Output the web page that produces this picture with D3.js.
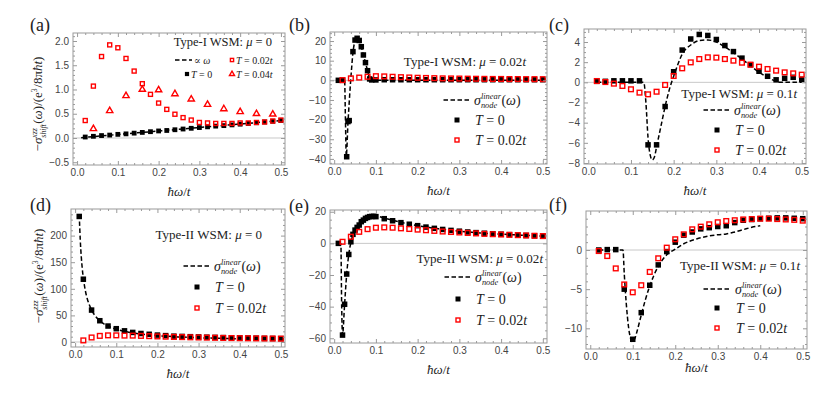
<!DOCTYPE html>
<html><head><meta charset="utf-8">
<script src="https://cdn.jsdelivr.net/npm/d3@7"></script>
<style>body{margin:0;background:#fff} svg{display:block} text{white-space:pre}</style>
</head><body><svg id="c" width="831" height="405"></svg>
<script>
// ---------------- DATA ----------------
const xTicks = [0, 0.1, 0.2, 0.3, 0.4, 0.5];
const xTickLabels = ["0.0","0.1","0.2","0.3","0.4","0.5"];
const omega = [0.02,0.04,0.06,0.08,0.10,0.12,0.14,0.16,0.18,0.20,0.22,0.24,0.26,0.28,0.30,0.32,0.34,0.36,0.38,0.40,0.42,0.44,0.46,0.48,0.50];

// (a) Type-I, mu=0
const aLineX = [0.01, 0.5];
const aLineY = [0.007, 0.36];
const aT0Y = [0.02,0.035,0.05,0.06,0.075,0.085,0.1,0.115,0.13,0.145,0.155,0.17,0.185,0.2,0.215,0.23,0.245,0.255,0.27,0.285,0.3,0.315,0.33,0.345,0.36];
const aT002Y = [0.36,1.07,1.68,1.92,1.86,1.64,1.38,1.12,0.9,0.72,0.59,0.49,0.42,0.37,0.32,0.31,0.3,0.3,0.3,0.31,0.31,0.32,0.33,0.35,0.37];
const aT004X = [0.04,0.08,0.12,0.16,0.20,0.24,0.28,0.32,0.36,0.40,0.44,0.48];
const aT004Y = [0.19,0.56,0.87,1.0,0.99,0.91,0.8,0.69,0.6,0.54,0.5,0.49];

// (b) Type-I, mu=0.02t
const bLineX = [0.01,0.025,0.027,0.029,0.033,0.037,0.041,0.045,0.05,0.055,0.06,0.065,0.07,0.075,0.08,0.085,0.09,0.1,0.2,0.3,0.4,0.5];
const bLineY = [0,0,-20,-38.5,-22,-8,4,14,20,21.6,20.3,17,13,9,5,1,0,0,0,0,0,0];
const bT0X = [0.01,0.02,0.03,0.033,0.036,0.045,0.05,0.055,0.06,0.065,0.07,0.075,0.08,0.085,0.09,0.1,0.12,0.14,0.16,0.18,0.20,0.22,0.24,0.26,0.28,0.30,0.32,0.34,0.36,0.38,0.40,0.42,0.44,0.46,0.48,0.50];
const bT0Y = [0,0,-38.9,-21,-20.5,14.6,20.5,21.4,20.3,17.1,12.9,9.0,4.9,0.7,0.2,0.2,0.3,0.3,0.3,0.3,0.3,0.3,0.3,0.3,0.3,0.3,0.3,0.3,0.3,0.3,0.3,0.3,0.3,0.3,0.3,0.3];
const bT002Y = [0.1,1.0,1.4,1.8,2.1,2.0,1.8,1.6,1.45,1.3,1.2,1.1,1.0,0.95,0.9,0.85,0.8,0.75,0.7,0.7,0.65,0.65,0.6,0.6,0.6];

// (c) Type-I, mu=0.1t
const cLineX = [0.02,0.13,0.135,0.14,0.145,0.15,0.155,0.16,0.17,0.18,0.19,0.2,0.21,0.22,0.24,0.26,0.28,0.3,0.32,0.34,0.36,0.38,0.4,0.42,0.44,0.45,0.5];
const cLineY = [0,0,-2,-5.5,-7.2,-7.7,-7.4,-6.4,-4.4,-2.4,-0.7,0.6,1.8,2.8,3.7,4.15,4.2,4.0,3.5,2.95,2.3,1.65,1.0,0.5,0.1,0,0];
const cT0Y = [0.1,0.1,0.15,0.15,0.15,0.15,-6.2,-6.2,-2.4,1.05,3.2,4.3,4.75,4.65,4.25,3.65,3.05,2.4,1.75,1.1,0.6,0.25,0.4,0.5,0.3];
const cT002Y = [0.13,0.03,-0.13,-0.36,-0.69,-1.02,-1.19,-0.93,-0.26,0.63,1.39,1.98,2.31,2.48,2.45,2.31,2.15,1.95,1.75,1.55,1.32,1.16,0.99,0.89,0.76];

// (d) Type-II, mu=0
const dLineX = [0.01,0.0125,0.015,0.0175,0.02,0.025,0.03,0.035,0.04,0.05,0.06,0.07,0.08,0.1,0.12,0.15,0.2,0.25,0.3,0.35,0.4];
const dLineY = [240,192,160,137,120,96,80,69,60,48,40,34,30,24,20,16,12,9.6,8,6.9,6];
const dT0X = [0.01,0.02,0.04,0.06,0.08,0.10,0.12,0.14,0.16,0.18,0.20,0.22,0.24,0.26,0.28,0.30,0.32,0.34,0.36,0.38,0.40,0.42,0.44,0.46,0.48,0.50];
const dT0Y = [236,118,60,40,30,25,21,18,16,14.5,13,12,11,10.5,10,9.5,9,8.7,8.3,8,7.7,7.4,7.1,6.8,6.6,6.4];
const dT002Y = [3,8.5,11.5,12.5,12.5,12,12,11.5,11,10.5,10,9.5,9.2,8.8,8.5,8.2,7.9,7.6,7.4,7.2,7,6.8,6.6,6.5,6.3];

// (e) Type-II, mu=0.02t
const eLineX = [0.01,0.016,0.018,0.02,0.025,0.03,0.035,0.04,0.045,0.05,0.055,0.06,0.07,0.08,0.09,0.1,0.12,0.14,0.16,0.18,0.2,0.25,0.3,0.35,0.4,0.45,0.5];
const eLineY = [0,0,-40,-58,-38.5,-19.4,-7,0.5,5.5,8.5,10.2,11.8,14.6,16.4,17.1,17.2,16,14.6,13.3,12.2,11.2,9.2,7.7,6.6,5.8,5.2,4.6];
const eT0X = [0.01,0.02,0.025,0.03,0.035,0.04,0.045,0.05,0.055,0.06,0.065,0.07,0.075,0.08,0.085,0.09,0.095,0.1,0.12,0.14,0.16,0.18,0.20,0.22,0.24,0.26,0.28,0.30,0.32,0.34,0.36,0.38,0.40,0.42,0.44,0.46,0.48,0.50];
const eT0Y = [0,-58,-38.5,-19.4,-7,1,5.7,8.4,10.1,11.6,13.7,14.7,15.8,16.4,16.9,17.0,17.1,16.9,15.6,14.3,13.1,12.1,11.2,10.3,9.5,8.8,8.2,7.7,7.2,6.8,6.4,6.1,5.8,5.5,5.2,5.0,4.8,4.6];
const eT002Y = [1,4.2,7.3,9.0,9.9,10.1,9.9,9.5,9.1,8.7,8.3,7.9,7.5,7.2,6.9,6.6,6.3,6.0,5.8,5.6,5.4,5.2,5.0,4.8,4.6];

// (f) Type-II, mu=0.1t
const fLineX = [0.02,0.077,0.08,0.085,0.09,0.095,0.1,0.105,0.11,0.12,0.13,0.14,0.15,0.16,0.18,0.2,0.22,0.25,0.28,0.3,0.32,0.34,0.36,0.38,0.4];
const fLineY = [0,0,-3,-7,-9.8,-11.3,-11.7,-11.3,-10.4,-8.3,-6.3,-4.6,-3.2,-2.1,-0.6,0.1,0.8,1.4,1.8,1.95,2.05,2.3,2.6,2.9,3.1];
const fT0Y = [0,0.05,0.05,-5.0,-11.4,-8.0,-4.5,-1.9,-0.2,1.0,1.9,2.3,2.7,2.85,3.0,3.1,3.5,3.8,3.9,4.0,4.05,4.1,4.1,4.05,4.0];
const fT002Y = [-0.13,-0.77,-2.35,-4.4,-5.4,-4.5,-2.8,-1.06,0.3,1.37,2.0,2.64,2.98,3.28,3.54,3.7,3.8,3.9,3.95,4.0,4.0,3.95,3.9,3.85,3.75];

// y tick values / labels
const aYTicks = [-0.5,0,0.5,1,1.5,2],   aYLabels = ["−0.5","0.0","0.5","1.0","1.5","2.0"];
const bYTicks = [-40,-30,-20,-10,0,10,20], bYLabels = ["−40","−30","−20","−10","0","10","20"];
const cYTicks = [-8,-6,-4,-2,0,2,4],    cYLabels = ["−8","−6","−4","−2","0","2","4"];
const dYTicks = [0,50,100,150,200],     dYLabels = ["0","50","100","150","200"];
const eYTicks = [-60,-40,-20,0,20],     eYLabels = ["−60","−40","−20","0","20"];
const fYTicks = [-10,-5,0],             fYLabels = ["−10","−5","0"];

// ---------------- DRAWING ----------------
const svg = d3.select('#c');
const SERIF = "'Liberation Serif','DejaVu Serif',serif";
const SANS = "'Liberation Sans','DejaVu Sans',sans-serif";
const RED = '#f00';

function rich(parent, segs, size, anchor) {
  const g = parent.append('g');
  let x = 0;
  const mk = (txt, it, sz, yy) => g.append('text').attr('xml:space','preserve')
      .attr('x', x).attr('y', yy).text(txt)
      .style('font-family', SERIF).style('font-size', sz + 'px')
      .style('font-style', it ? 'italic' : 'normal').attr('fill', '#222');
  segs.forEach(s => {
    if (s.sup !== undefined || s.sub !== undefined) {
      let w = 0; const ss = size * 0.6;
      if (s.sup) { const t = mk(s.sup, s.it !== false, ss, -size * 0.40); w = Math.max(w, t.node().getComputedTextLength()); }
      if (s.sub) { const t = mk(s.sub, s.it !== false, ss, size * 0.28); w = Math.max(w, t.node().getComputedTextLength()); }
      x += w + 0.5;
    } else {
      const t = mk(s.t, s.it, size, 0);
      x += t.node().getComputedTextLength();
    }
  });
  const shift = anchor === 'end' ? -x : anchor === 'middle' ? -x / 2 : 0;
  g.selectAll('text').attr('x', function () { return +this.getAttribute('x') + shift; });
  return g;
}

const hdr = (typ, mu) => [{t: 'Type-' + typ + ' WSM: '}, {t: 'μ', it: true}, {t: ' = ' + mu[0]}].concat(mu[1] ? [{t: 't', it: true}] : []);
const Tlab = (v, hasT) => [{t: 'T', it: true}, {t: ' = ' + v}].concat(hasT ? [{t: 't', it: true}] : []);
const sigLab = [{t: 'σ', it: true}, {sup: 'linear', sub: 'node'}, {t: '('}, {t: 'ω', it: true}, {t: ')'}];

function marker(g, kind, cx, cy, s) {
  if (kind === 'black') g.append('rect').attr('x', cx - s / 2).attr('y', cy - s / 2).attr('width', s).attr('height', s).attr('fill', '#000');
  else if (kind === 'red') g.append('rect').attr('x', cx - s / 2 + 0.7).attr('y', cy - s / 2 + 0.7).attr('width', s - 1.4).attr('height', s - 1.4).attr('fill', 'none').attr('stroke', RED).attr('stroke-width', 1.4);
  else if (kind === 'tri') g.append('path').attr('transform', `translate(${cx},${cy})`).attr('d', d3.symbol(d3.symbolTriangle, s * s * 0.45)()).attr('fill', 'none').attr('stroke', RED).attr('stroke-width', 1.4);
}

const panels = [
  {id: 'a', frame: [73, 33, 285, 165], ydom: [-0.557, 2.165], yt: aYTicks, yl: aYLabels, ym: 0.1, ms: 4.8,
   line: [aLineX, aLineY], black: [omega, aT0Y], red: [omega, aT002Y], tri: [aT004X, aT004Y]},
  {id: 'b', frame: [330, 32, 547, 164], ydom: [-42.6, 24.6], yt: bYTicks, yl: bYLabels, ym: 2, ms: 5.5,
   line: [bLineX, bLineY], black: [bT0X, bT0Y], red: [omega, bT002Y]},
  {id: 'c', frame: [584, 29, 806, 164], ydom: [-8.1, 5.29], yt: cYTicks, yl: cYLabels, ym: 0.5, ms: 5.5,
   line: [cLineX, cLineY], black: [omega, cT0Y], red: [omega, cT002Y]},
  {id: 'd', frame: [71, 209, 285, 347], ydom: [-9.4, 250], yt: dYTicks, yl: dYLabels, ym: 10, ms: 5.5,
   line: [dLineX, dLineY], black: [dT0X, dT0Y], red: [omega, dT002Y]},
  {id: 'e', frame: [330, 210, 547, 343], ydom: [-63, 21.1], yt: eYTicks, yl: eYLabels, ym: 5, ms: 5.5,
   line: [eLineX, eLineY], black: [eT0X, eT0Y], red: [omega, eT002Y]},
  {id: 'f', frame: [586, 211, 807, 349], ydom: [-12.64, 4.98], yt: fYTicks, yl: fYLabels, ym: 1, ms: 5.5,
   line: [fLineX, fLineY], black: [omega, fT0Y], red: [omega, fT002Y]},
];

const xMinor = d3.range(0, 0.5001, 0.02).filter(v => Math.abs(v * 10 - Math.round(v * 10)) > 1e-6);

function styleAxis(sel) {
  sel.select('.domain').remove();
  sel.selectAll('.tick line').attr('stroke', '#9a9a9a');
  sel.selectAll('.tick text').attr('fill', '#444').style('font-family', SANS).style('font-size', '10px');
}

panels.forEach(p => {
  const [L, T, R, B] = p.frame;
  const x = d3.scaleLinear().domain([-0.01, 0.51]).range([L, R]);
  const y = d3.scaleLinear().domain(p.ydom).range([B, T]);
  const g = svg.append('g');
  g.append('clipPath').attr('id', 'clip' + p.id).append('rect').attr('x', L).attr('y', T).attr('width', R - L).attr('height', B - T);
  const plot = g.append('g').attr('clip-path', `url(#clip${p.id})`);
  plot.append('line').attr('x1', L).attr('x2', R).attr('y1', y(0)).attr('y2', y(0)).attr('stroke', '#c8c8c8').attr('stroke-width', 1);

  const yMinor = d3.range(Math.ceil(p.ydom[0] / p.ym) * p.ym, p.ydom[1], p.ym)
    .filter(v => !p.yt.some(t => Math.abs(t - v) < p.ym * 1e-3));

  const ax = [
    g.append('g').attr('transform', `translate(0,${B})`).call(d3.axisBottom(x).tickValues(xTicks).tickFormat((d, i) => xTickLabels[i]).tickSize(-4).tickPadding(4)),
    g.append('g').attr('transform', `translate(0,${B})`).call(d3.axisBottom(x).tickValues(xMinor).tickFormat('').tickSize(-2)),
    g.append('g').attr('transform', `translate(0,${T})`).call(d3.axisTop(x).tickValues(xTicks).tickFormat('').tickSize(-4)),
    g.append('g').attr('transform', `translate(0,${T})`).call(d3.axisTop(x).tickValues(xMinor).tickFormat('').tickSize(-2)),
    g.append('g').attr('transform', `translate(${L},0)`).call(d3.axisLeft(y).tickValues(p.yt).tickFormat((d, i) => p.yl[i]).tickSize(-4).tickPadding(4)),
    g.append('g').attr('transform', `translate(${L},0)`).call(d3.axisLeft(y).tickValues(yMinor).tickFormat('').tickSize(-2)),
    g.append('g').attr('transform', `translate(${R},0)`).call(d3.axisRight(y).tickValues(p.yt).tickFormat('').tickSize(-4)),
    g.append('g').attr('transform', `translate(${R},0)`).call(d3.axisRight(y).tickValues(yMinor).tickFormat('').tickSize(-2)),
  ];
  ax.forEach(styleAxis);
  g.append('rect').attr('x', L).attr('y', T).attr('width', R - L).attr('height', B - T).attr('fill', 'none').attr('stroke', '#9a9a9a').attr('stroke-width', 1);

  const lx = p.line[0], ly = p.line[1];
  plot.append('path').attr('d', d3.line().x(i => x(lx[i])).y(i => y(ly[i])).curve(d3.curveMonotoneX)(d3.range(lx.length)))
    .attr('fill', 'none').attr('stroke', '#000').attr('stroke-width', 1.5).attr('stroke-dasharray', '4.5,2.5');
  const bx = p.black[0], by = p.black[1];
  bx.forEach((v, i) => marker(plot, 'black', x(v), y(by[i]), p.ms));
  const rx = p.red[0], ry = p.red[1];
  rx.forEach((v, i) => marker(plot, 'red', x(v), y(ry[i]), p.ms + 0.6));
  if (p.tri) p.tri[0].forEach((v, i) => marker(plot, 'tri', x(v), y(p.tri[1][i]), 6.2));

  rich(g, [{t: 'ħω', it: true}, {t: '/'}, {t: 't', it: true}], 13, 'middle')
    .attr('transform', `translate(${(L + R) / 2},${B + (p.id === 'f' ? 23 : 31)})`);
});

[['(a)', 30, 31], ['(b)', 289, 31], ['(c)', 549, 31], ['(d)', 30, 211], ['(e)', 289, 212], ['(f)', 549, 211]].forEach(([t, px, py]) =>
  svg.append('text').attr('x', px).attr('y', py).text(t).style('font-family', SERIF).style('font-size', '18px').attr('fill', '#222'));

rich(svg, [{t: '−'}, {t: 'σ', it: true}, {sup: 'xzz', sub: 'shift'}, {t: '('}, {t: 'ω', it: true}, {t: ')/(e'}, {sup: '3', it: false}, {t: '/8π'}, {t: 'ħt', it: true}, {t: ')'}], 13, 'middle')
  .attr('transform', 'translate(42,104) rotate(-90)');
rich(svg, [{t: '−'}, {t: 'σ', it: true}, {sup: 'zzz', sub: 'shift'}, {t: '('}, {t: 'ω', it: true}, {t: ')/(e'}, {sup: '3', it: false}, {t: '/8π'}, {t: 'ħt', it: true}, {t: ')'}], 13, 'middle')
  .attr('transform', 'translate(43,276) rotate(-90)');

function dashLeg(x1, x2, yy) {
  svg.append('line').attr('x1', x1).attr('x2', x2).attr('y1', yy).attr('y2', yy).attr('stroke', '#000').attr('stroke-width', 1.5).attr('stroke-dasharray', '4.5,2.5');
}
rich(svg, hdr('I', ['0', false]), 12.5, 'end').attr('transform', 'translate(272,46)');
dashLeg(175, 192, 60);
rich(svg, [{t: '∝ '}, {t: 'ω', it: true}], 10, 'start').attr('transform', 'translate(194,63.5)');
marker(svg, 'red', 232, 60, 4.6);
rich(svg, Tlab('0.02', true), 10, 'start').attr('transform', 'translate(236,63.5)');
marker(svg, 'black', 187, 74, 4.2);
rich(svg, Tlab('0', false), 10, 'start').attr('transform', 'translate(191,77.5)');
marker(svg, 'tri', 232, 74, 5);
rich(svg, Tlab('0.04', true), 10, 'start').attr('transform', 'translate(236,77.5)');

const legs = [
  {h: ['I', ['0.02', true]], hx: 526, hy: 65.5, lx: 457, tx: 474, y1: 100, y2: 120, y3: 140},
  {h: ['I', ['0.1', true]], hx: 797, hy: 97.5, lx: 717, tx: 734, y1: 110, y2: 130, y3: 150},
  {h: ['II', ['0', false]], hx: 262, hy: 238.5, lx: 197, tx: 214, y1: 266, y2: 287, y3: 308},
  {h: ['II', ['0.02', true]], hx: 543, hy: 262.5, lx: 458, tx: 475, y1: 277, y2: 299, y3: 320},
  {h: ['II', ['0.1', true]], hx: 800, hy: 269.5, lx: 717, tx: 735, y1: 289, y2: 308, y3: 328},
];
legs.forEach(l => {
  rich(svg, hdr(l.h[0], l.h[1]), 13, 'end').attr('transform', `translate(${l.hx},${l.hy})`);
  dashLeg(l.lx - 13.5, l.lx + 13.5, l.y1);
  rich(svg, sigLab, 14, 'start').attr('transform', `translate(${l.tx},${l.y1 + 4.5})`);
  marker(svg, 'black', l.lx, l.y2, 5);
  rich(svg, Tlab('0', false), 14, 'start').attr('transform', `translate(${l.tx + 1},${l.y2 + 4.5})`);
  marker(svg, 'red', l.lx, l.y3, 5.4);
  rich(svg, Tlab('0.02', true), 14, 'start').attr('transform', `translate(${l.tx + 1},${l.y3 + 4.5})`);
});
</script></body></html>
